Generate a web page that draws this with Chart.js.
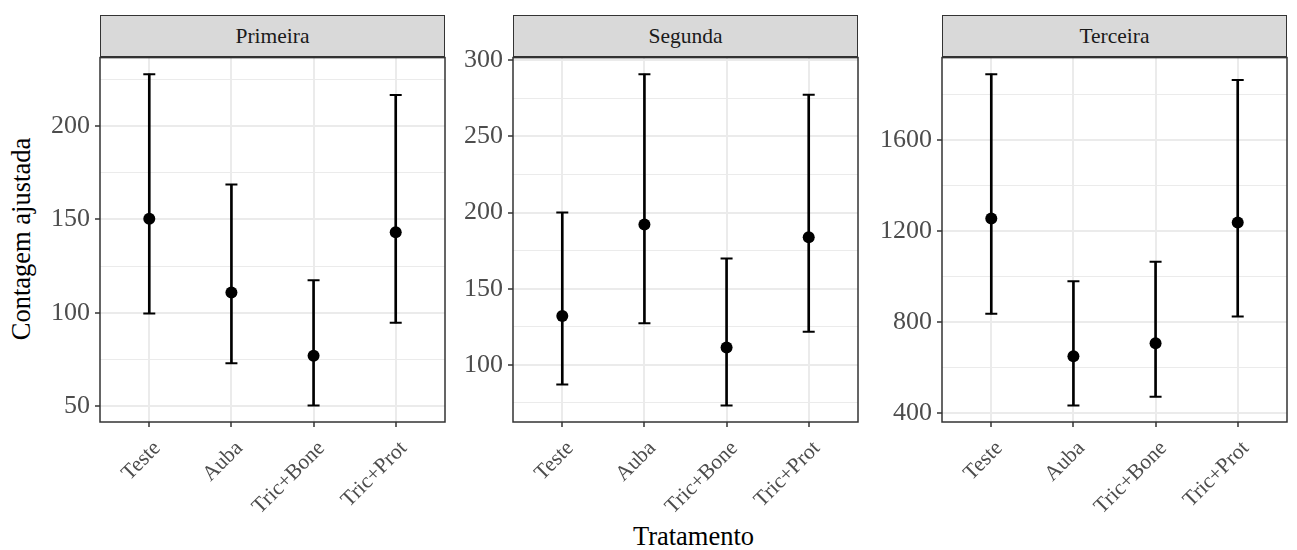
<!DOCTYPE html>
<html>
<head>
<meta charset="utf-8">
<script src="https://cdn.jsdelivr.net/npm/chart.js@4.4.1/dist/chart.umd.min.js"></script>
<style>
  body { margin: 0; background: #fff; width: 1297px; height: 550px; position: relative; overflow: hidden;
         font-family: "Liberation Serif", "Times New Roman", serif; }
  canvas { position: absolute; }
  .strip { position: absolute; top: 15px; height: 42px; box-sizing: border-box; background: #d9d9d9;
           border: 1.5px solid #333; display: flex; align-items: center; justify-content: center;
           font-size: 21.5px; color: #1a1a1a; }
  .xtitle { position: absolute; left: 100px; width: 1187px; top: 523px; text-align: center;
            font-size: 26.5px; line-height: 26px; color: #000; }
  .ytitle { position: absolute; left: 21px; top: 239px; transform: translate(-50%, -50%) rotate(-90deg);
            font-size: 26.5px; line-height: 26px; white-space: nowrap; color: #000; }
</style>
</head>
<body>
<div class="xtitle">Tratamento</div>
<div class="ytitle">Contagem ajustada</div>
<script>
const categories = ["Teste", "Auba", "Tric+Bone", "Tric+Prot"];
const panelNames = ["Primeira", "Segunda", "Terceira"];

const primeiraFit   = [150.4, 110.9, 77.1, 143.2];
const primeiraLower = [99.7, 73.0, 50.5, 94.7];
const primeiraUpper = [227.7, 168.7, 117.4, 216.5];

const segundaFit   = [132.1, 192.1, 111.4, 183.8];
const segundaLower = [87.2, 127.3, 73.4, 121.8];
const segundaUpper = [200.0, 290.8, 169.8, 277.3];

const terceiraFit   = [1256, 651, 708, 1238];
const terceiraLower = [837, 435, 473, 825];
const terceiraUpper = [1889, 980, 1066, 1863];

const primeiraTicks = [50, 100, 150, 200];
const segundaTicks  = [100, 150, 200, 250, 300];
const terceiraTicks = [400, 800, 1200, 1600];

// layout (pixels)
const plotLefts = [100, 513, 942];
const plotWidth = 345;
const axisWidth = 100;
const canvasTop = 36.5, canvasHeight = 485, padTop = 20, xAxisHeight = 100;

const SERIF = '"Liberation Serif", "Times New Roman", serif';
Chart.defaults.font.family = SERIF;
Chart.defaults.animation = false;

const panelBorder = {
  id: "panelBorder",
  afterDraw(chart) {
    const { ctx, chartArea: a } = chart;
    ctx.save();
    ctx.strokeStyle = "#333";
    ctx.lineWidth = 1.5;
    ctx.strokeRect(a.left, a.top, a.right - a.left, a.bottom - a.top);
    ctx.restore();
  }
};

// ggplot-style 5% expansion of the data range
function expandRange(lo, hi) {
  const min = Math.min(...lo), max = Math.max(...hi);
  const pad = (max - min) * 0.05;
  return [min - pad, max + pad];
}

function minorTicks(majors, min, max) {
  const step = majors[1] - majors[0];
  const out = [];
  for (let v = majors[0] - step / 2; v <= max; v += step) if (v >= min) out.push(v);
  return out;
}

function makePanel(i, fit, lower, upper, majors) {
  const left = plotLefts[i];
  const strip = document.createElement("div");
  strip.className = "strip";
  strip.style.left = left + "px";
  strip.style.width = plotWidth + "px";
  strip.textContent = panelNames[i];
  document.body.appendChild(strip);

  // chart.js keeps 8px on the right for the rotated labels, so add them here
  const canvas = document.createElement("canvas");
  canvas.width = axisWidth + plotWidth + 8;
  canvas.height = canvasHeight;
  canvas.style.left = (left - axisWidth) + "px";
  canvas.style.top = canvasTop + "px";
  document.body.appendChild(canvas);

  const [ymin, ymax] = expandRange(lower, upper);
  const minors = minorTicks(majors, ymin, ymax);
  const allTicks = [...majors, ...minors].sort((a, b) => a - b);
  const isMajor = v => majors.includes(v);
  const xy = vals => vals.map((v, k) => ({ x: k + 1, y: v }));

  new Chart(canvas, {
    type: "bar",
    data: {
      datasets: [
        { type: "scatter", data: xy(fit), pointStyle: "circle", pointRadius: 6,
          backgroundColor: "#000", borderColor: "#000", borderWidth: 0 },
        { type: "scatter", data: xy(upper), pointStyle: "line", pointRadius: 6,
          borderColor: "#000", borderWidth: 2 },
        { type: "scatter", data: xy(lower), pointStyle: "line", pointRadius: 6,
          borderColor: "#000", borderWidth: 2 },
        { type: "bar", data: categories.map((c, k) => ({ x: k + 1, y: [lower[k], upper[k]] })),
          backgroundColor: "#000", borderWidth: 0, barThickness: 2 }
      ]
    },
    options: {
      responsive: false,
      events: [],
      layout: { padding: { top: padTop, right: 0, left: 0, bottom: 0 } },
      plugins: { legend: { display: false }, tooltip: { enabled: false } },
      scales: {
        x: {
          type: "linear", min: 0.4, max: 4.6, offset: false,
          afterBuildTicks: s => { s.ticks = categories.map((c, k) => ({ value: k + 1 })); },
          afterFit: s => { s.height = xAxisHeight; },
          ticks: {
            autoSkip: false, minRotation: 45, maxRotation: 45, padding: 9, labelOffset: 8,
            color: "#4d4d4d", font: { size: 21.5 },
            callback: v => categories[Math.round(v) - 1]
          },
          grid: { offset: false, color: "#ebebeb", lineWidth: 2, tickColor: "#333", tickLength: 5, tickWidth: 1.5 },
          border: { display: false }
        },
        y: {
          min: ymin, max: ymax,
          afterBuildTicks: s => { s.ticks = allTicks.map(v => ({ value: v })); },
          afterFit: s => { s.width = axisWidth; },
          ticks: {
            autoSkip: false, padding: 5, color: "#4d4d4d", font: { size: 26 },
            callback: v => isMajor(v) ? String(v) : ""
          },
          grid: {
            color: "#ebebeb",
            lineWidth: c => (c.tick && isMajor(c.tick.value)) ? 2 : 1,
            tickColor: c => (c.tick && isMajor(c.tick.value)) ? "#333" : "rgba(0,0,0,0)",
            tickLength: 5, tickWidth: 1.5
          },
          border: { display: false }
        }
      }
    },
    plugins: [panelBorder]
  });
}

makePanel(0, primeiraFit, primeiraLower, primeiraUpper, primeiraTicks);
makePanel(1, segundaFit, segundaLower, segundaUpper, segundaTicks);
makePanel(2, terceiraFit, terceiraLower, terceiraUpper, terceiraTicks);
</script>
</body>
</html>
